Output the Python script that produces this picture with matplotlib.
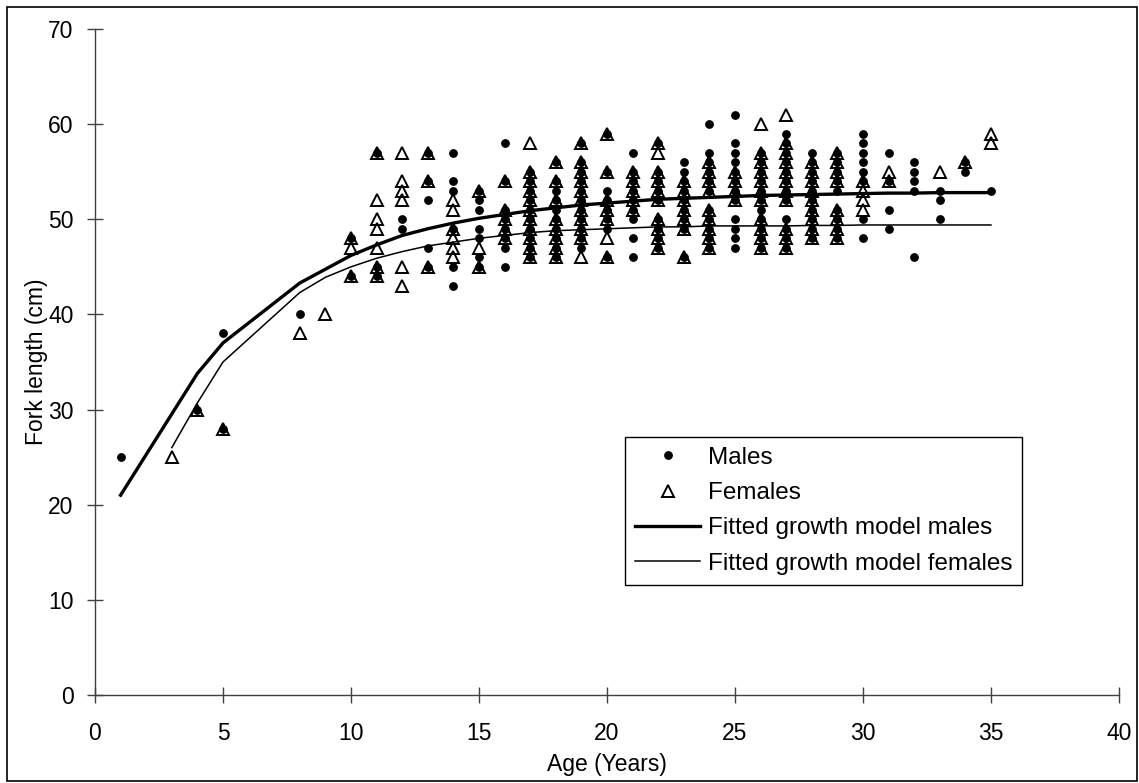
import matplotlib
matplotlib.use('Agg')
import matplotlib.pyplot as plt
from matplotlib.patches import Rectangle

plt.rcParams['font.family'] = ['Liberation Sans', 'DejaVu Sans']

# observed fork lengths, grouped by age
male_age = ([1] + [4] + [5]*2 + [8] + [10]*2 + [11]*3 + [12]*2 + [13]*5 + [14]*6
            + [15]*7 + [16]*8 + [17]*10 + [18]*10 + [19]*11 + [20]*8 + [21]*9
            + [22]*9 + [23]*9 + [24]*11 + [25]*12 + [26]*11 + [27]*12 + [28]*10
            + [29]*9 + [30]*8 + [31]*4 + [32]*5 + [33]*3 + [34]*2 + [35])
male_len = [25,
            30,
            38, 28,
            40,
            48, 44,
            57, 45, 44,
            50, 49,
            57, 54, 52, 47, 45,
            57, 54, 53, 49, 45, 43,
            53, 52, 51, 49, 48, 46, 45,
            58, 54, 51, 50, 49, 48, 47, 45,
            55, 54, 53, 52, 51, 50, 49, 48, 47, 46,
            56, 54, 53, 52, 51, 50, 49, 48, 47, 46,
            58, 56, 55, 54, 53, 52, 51, 50, 49, 48, 47,
            59, 55, 53, 52, 51, 50, 49, 46,
            57, 55, 54, 53, 52, 51, 50, 48, 46,
            58, 55, 54, 53, 52, 50, 49, 48, 47,
            56, 55, 54, 53, 52, 51, 50, 49, 46,
            60, 57, 56, 55, 54, 53, 51, 50, 49, 48, 47,
            61, 58, 57, 56, 55, 54, 53, 52, 50, 49, 48, 47,
            57, 56, 55, 54, 53, 52, 51, 50, 49, 48, 47,
            59, 58, 57, 56, 55, 54, 53, 52, 50, 49, 48, 47,
            57, 56, 55, 54, 53, 52, 51, 50, 49, 48,
            57, 56, 55, 54, 53, 51, 50, 49, 48,
            59, 58, 57, 56, 55, 54, 50, 48,
            57, 54, 51, 49,
            56, 55, 54, 53, 46,
            53, 52, 50,
            56, 55,
            53]

female_age = ([3] + [4] + [5] + [8] + [9] + [10]*3 + [11]*7 + [12]*6 + [13]*3
              + [14]*6 + [15]*3 + [16]*5 + [17]*11 + [18]*8 + [19]*11 + [20]*7
              + [21]*5 + [22]*10 + [23]*7 + [24]*9 + [25]*4 + [26]*11 + [27]*11
              + [28]*9 + [29]*8 + [30]*4 + [31]*2 + [33] + [34] + [35]*2)
female_len = [25,
              30,
              28,
              38,
              40,
              48, 47, 44,
              57, 52, 50, 49, 47, 45, 44,
              57, 54, 53, 52, 45, 43,
              57, 54, 45,
              52, 51, 49, 48, 47, 46,
              53, 47, 45,
              54, 51, 50, 49, 48,
              58, 55, 54, 53, 52, 51, 50, 49, 48, 47, 46,
              56, 54, 52, 50, 49, 48, 47, 46,
              58, 56, 55, 54, 53, 52, 51, 50, 49, 48, 46,
              59, 55, 52, 51, 50, 48, 46,
              55, 54, 53, 52, 51,
              58, 57, 55, 54, 53, 52, 50, 49, 48, 47,
              54, 53, 52, 51, 50, 49, 46,
              56, 55, 54, 53, 51, 50, 49, 48, 47,
              55, 54, 53, 52,
              60, 57, 56, 55, 54, 53, 52, 50, 49, 48, 47,
              61, 58, 57, 56, 55, 54, 53, 52, 49, 48, 47,
              56, 55, 54, 53, 52, 51, 50, 49, 48,
              57, 56, 55, 54, 51, 50, 49, 48,
              54, 53, 52, 51,
              55, 54,
              55,
              56,
              59, 58]

# fitted growth curves
fit_m_age = [1, 4, 5, 8, 10] + list(range(11, 36))
fit_m_len = [21.0, 33.8, 37.0, 43.3, 46.2, 47.3, 48.3, 49.0, 49.6, 50.1, 50.5,
             50.9, 51.2, 51.5, 51.7, 51.9, 52.1, 52.2, 52.3, 52.4, 52.5, 52.55,
             52.6, 52.65, 52.7, 52.75, 52.75, 52.8, 52.8, 52.8]
fit_f_age = [3, 4, 5, 8, 9, 10] + list(range(11, 36))
fit_f_len = [26.0, 30.7, 35.0, 42.3, 43.9, 45.0, 45.9, 46.6, 47.2, 47.6, 48.0,
             48.3, 48.6, 48.8, 48.9, 49.0, 49.1, 49.2, 49.2, 49.3, 49.3, 49.3,
             49.3, 49.35, 49.35, 49.4, 49.4, 49.4, 49.4, 49.4, 49.4]

FS = 16.5

fig = plt.figure(figsize=(11.39, 7.83), dpi=100)
ax = fig.add_axes([0.0834, 0.1124, 0.8990, 0.8506])

ax.plot(fit_m_age, fit_m_len, color='black', lw=2.4, zorder=2,
        label='Fitted growth model males')
ax.plot(fit_f_age, fit_f_len, color='black', lw=1.1, zorder=2,
        label='Fitted growth model females')
ax.plot(male_age, male_len, 'o', color='black', ms=5.3, ls='none', zorder=3,
        label='Males')
ax.plot(female_age, female_len, '^', mfc='none', mec='black', mew=1.4, ms=9,
        ls='none', zorder=3, label='Females')

ax.set_xlim(0, 40)
ax.set_ylim(0, 70)
ax.set_xticks(range(0, 41, 5))
ax.set_yticks(range(0, 71, 10))
ax.spines['top'].set_visible(False)
ax.spines['right'].set_visible(False)
for s in ['left', 'bottom']:
    ax.spines[s].set_color('#404040')
    ax.spines[s].set_linewidth(1.0)
ax.tick_params(direction='inout', length=11, width=1.0, color='#404040',
               labelsize=FS)
ax.tick_params(axis='x', pad=14)
ax.tick_params(axis='y', pad=10)
ax.set_xlabel('Age (Years)', fontsize=FS, labelpad=6)
ax.set_ylabel('Fork length (cm)', fontsize=FS, labelpad=0)

handles, labels = ax.get_legend_handles_labels()
order = [2, 3, 0, 1]
leg = ax.legend([handles[i] for i in order], [labels[i] for i in order],
                loc='upper left', bbox_to_anchor=(0.5176, 0.3874),
                fontsize=17.5, frameon=True, fancybox=False, framealpha=1,
                edgecolor='black', numpoints=1, handlelength=2.7,
                handletextpad=0.3, labelspacing=0.55, borderpad=0.4,
                borderaxespad=0)
leg.get_frame().set_linewidth(1.0)

fig.patches.append(Rectangle((0.006, 0.002), 0.9925, 0.989, transform=fig.transFigure,
                             fill=False, edgecolor='black', lw=1.2))

fig.savefig('out.png', dpi=100)
